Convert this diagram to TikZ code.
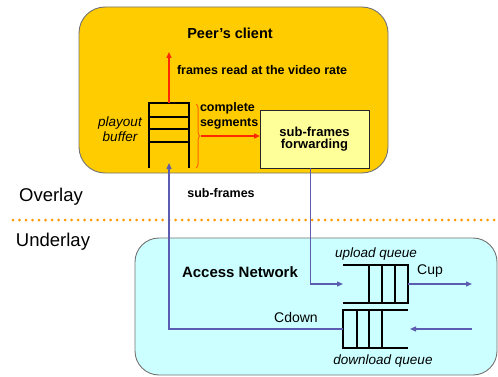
\documentclass[tikz,border=0pt]{standalone}
\usepackage{fontspec}
\setmainfont{Liberation Sans}
\usetikzlibrary{arrows.meta,positioning,calc,decorations.pathreplacing}
\definecolor{peeryellow}{RGB}{255,204,0}
\definecolor{netcyan}{RGB}{204,255,255}
\definecolor{fwdyellow}{RGB}{255,255,153}
\definecolor{linkblue}{RGB}{92,92,176}
\definecolor{readred}{RGB}{255,40,0}
\definecolor{braceorange}{RGB}{255,100,0}
\definecolor{dotorange}{RGB}{255,153,0}

\begin{document}
\begin{tikzpicture}[
  x=1pt, y=-1pt,
  every node/.style={inner sep=0pt, outer sep=0pt},
  peerbox/.style={rectangle, rounded corners=26pt, fill=peeryellow, draw=black!55, line width=0.9pt},
  netbox/.style={rectangle, rounded corners=24pt, fill=netcyan, draw=black!55, line width=0.9pt},
  fwdbox/.style={rectangle, fill=fwdyellow, draw=black!85, line width=0.9pt,
                 align=center, font=\bfseries\fontsize{13}{12}\selectfont},
  qslot/.style={rectangle, draw=none},
  cellline/.style={line width=1.4pt, draw=black},
  bigtxt/.style={font=\bfseries\fontsize{14.5}{16}\selectfont},
  lbltxt/.style={font=\bfseries\fontsize{12.5}{15}\selectfont, align=left},
  italtxt/.style={font=\itshape\fontsize{13.5}{15}\selectfont, align=center},
  plaintxt/.style={font=\fontsize{14}{16}\selectfont},
  layertxt/.style={font=\fontsize{18.5}{20}\selectfont},
  redar/.style={-{Triangle[length=6pt,width=5pt]}, line width=1.4pt, draw=readred},
  bluear/.style={-{Triangle[length=6pt,width=5pt]}, line width=1.2pt, draw=linkblue},
  dotline/.style={dotorange, line width=3pt, line cap=round, dash pattern=on 0pt off 6.5pt}
]
\useasboundingbox (0,0) rectangle (498,377);

% the two areas
\node[peerbox, minimum width=309pt, minimum height=166pt] (peer) at (233.5,90) {};
\node[netbox, minimum width=362pt, minimum height=137pt] (net) at (316,306.5) {};
\draw[dotline] (13,220) -- (498,220);

% texts
\node[bigtxt] (peertitle) at (230,33) {Peer’s client};
\node[lbltxt, anchor=west] (rate) at (177,70) {frames read at the video rate};
\node[italtxt] (playout) at (120,129.5) {playout\\buffer};
\node[lbltxt, anchor=west] (complete) at (200,115.5) {complete\\segments};
\node[lbltxt] (subframes) at (221,193) {sub-frames};
\node[layertxt] (overlay) at (51,197) {Overlay};
\node[layertxt] (underlay) at (53,242) {Underlay};
\node[bigtxt, font=\bfseries\fontsize{15}{17}\selectfont] (access) at (240,272) {Access Network};
\node[italtxt] (upq) at (376,254) {upload queue};
\node[italtxt] (downq) at (383,361) {download queue};
\node[plaintxt] (cup) at (430,271) {Cup};
\node[plaintxt] (cdown) at (296,317) {Cdown};

% forwarding box
\node[fwdbox, minimum width=109pt, minimum height=58pt] (fwd) at (314.5,139)
     {sub-frames\\forwarding};

% playout buffer
\node[qslot, minimum width=40pt, minimum height=65pt] (buf) at (169,135.5) {};
\draw[cellline] (buf.south west) -- (buf.north west) -- (buf.north east) -- (buf.south east);
\foreach \d in {14,26,39}
  \draw[cellline] ([yshift=-\d pt]buf.north west) -- ([yshift=-\d pt]buf.north east);

% upload queue
\node[qslot, minimum width=65pt, minimum height=38pt] (uq) at (375.5,284) {};
\draw[cellline] (uq.north west) -- (uq.north east) -- (uq.south east) -- (uq.south west);
\foreach \d in {26,39,52}
  \draw[cellline] ([xshift=\d pt]uq.north west) -- ([xshift=\d pt]uq.south west);

% download queue
\node[qslot, minimum width=65pt, minimum height=38pt] (dq) at (375.5,329) {};
\draw[cellline] (dq.north east) -- (dq.north west) -- (dq.south west) -- (dq.south east);
\foreach \d in {14,26,39}
  \draw[cellline] ([xshift=\d pt]dq.north west) -- ([xshift=\d pt]dq.south west);

% brace
\draw[braceorange, line width=1pt, decorate, decoration={brace, amplitude=4pt}]
     (196,104) -- (196,168);
\coordinate (bracetip) at (201,136);

% free ends
\coordinate (readout) at (169,52);
\coordinate (cupout) at (472,284);
\coordinate (downin) at (472,329);

% connectors
\draw[redar] (buf.north) -- (readout);
\draw[redar] (bracetip) -- (bracetip -| fwd.west);
\draw[bluear] ([xshift=-4pt]fwd.south) |- (uq.west);
\draw[bluear] (uq.east) -- (cupout);
\draw[bluear] (downin) -- ([xshift=2pt]dq.east);
\draw[bluear] (dq.west) -| ([yshift=5pt]buf.south);
\end{tikzpicture}
\end{document}
